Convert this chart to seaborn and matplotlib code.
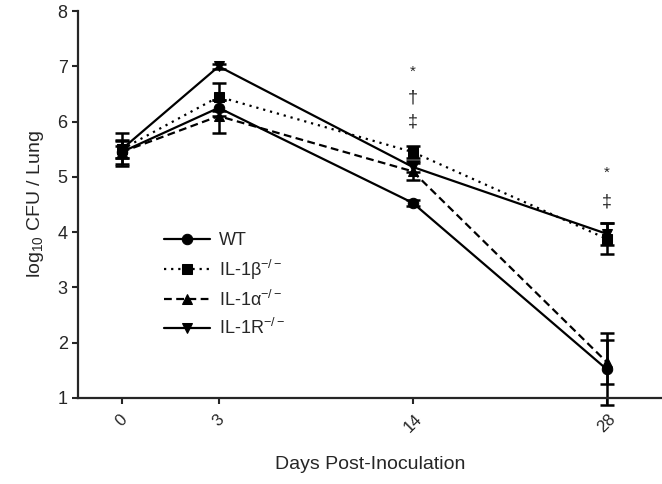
import numpy as np
import pandas as pd
import seaborn as sns
import matplotlib
matplotlib.use("Agg")
import matplotlib.pyplot as plt

# data
days = [0, 3, 14, 28]
groups = ["WT", "IL-1β$^{-/-}$", "IL-1α$^{-/-}$", "IL-1R$^{-/-}$"]
wt = [5.45, 6.25, 4.53, 1.52]
wt_sem = [0.10, 0.15, 0.05, 0.65]
il1b = [5.50, 6.45, 5.45, 3.88]
il1b_sem = [0.15, 0.25, 0.10, 0.28]
il1a = [5.45, 6.10, 5.10, 1.65]
il1a_sem = [0.22, 0.30, 0.15, 0.40]
il1r = [5.50, 7.00, 5.18, 3.97]
il1r_sem = [0.30, 0.05, 0.10, 0.20]

# significance marks
sig_days = [14, 14, 14, 28, 28]
sig_y = [6.9, 6.43, 6.0, 5.07, 4.54]
sig_txt = ["*", "†", "‡", "*", "‡"]

means = [wt, il1b, il1a, il1r]
sems = [wt_sem, il1b_sem, il1a_sem, il1r_sem]

df = pd.DataFrame({
    "day": days * 4,
    "cfu": sum(means, []),
    "group": np.repeat(groups, len(days)),
})

sns.set_style("ticks")
plt.rcParams["font.family"] = ["Liberation Sans", "DejaVu Sans"]
plt.rcParams["mathtext.fontset"] = "custom"
plt.rcParams["mathtext.rm"] = "Liberation Sans"
plt.rcParams["mathtext.it"] = "Liberation Sans"

fig = plt.figure(figsize=(6.62, 4.84), dpi=100)
ax = fig.add_axes([0.118, 0.178, 0.882, 0.799])

# uneven spacing of the day axis, as in the original figure
kd = np.array([0, 3, 14, 28], float)
kp = np.array([0, 1, 3, 5], float)


def piecewise(x, a, b):
    x = np.asarray(x, float)
    y = np.interp(x, a, b)
    y = np.where(x < a[0], b[0] + (x - a[0]) * (b[1] - b[0]) / (a[1] - a[0]), y)
    y = np.where(x > a[-1], b[-1] + (x - a[-1]) * (b[-1] - b[-2]) / (a[-1] - a[-2]), y)
    return y


ax.set_xscale("function", functions=(lambda x: piecewise(x, kd, kp),
                                     lambda x: piecewise(x, kp, kd)))

sns.lineplot(data=df, x="day", y="cfu", hue="group", style="group",
             palette=["black"] * 4,
             markers={groups[0]: "o", groups[1]: "s", groups[2]: "^", groups[3]: "v"},
             dashes={groups[0]: "", groups[1]: (1, 2.2), groups[2]: (3.5, 2), groups[3]: ""},
             linewidth=1.6, markersize=7.5, markeredgecolor="black", ax=ax)

for m, s in zip(means, sems):
    ax.errorbar(days, m, yerr=s, fmt="none", ecolor="black", elinewidth=1.8,
                capsize=5, capthick=1.8, clip_on=False)

for d, y, t in zip(sig_days, sig_y, sig_txt):
    ax.text(d, y, t, ha="center", va="center", fontsize=13 if t != "*" else 11)

ax.set_xlim(-1.35, 32.0)
ax.set_ylim(1, 8)
ax.set_xticks(days)
ax.set_xticklabels([str(d) for d in days], rotation=45, ha="center", fontsize=12)
ax.set_yticks(range(1, 9))
ax.tick_params(axis="y", labelsize=13)
ax.tick_params(axis="x", pad=6)
ax.tick_params(width=1.5, length=4)
for sp in ["left", "bottom"]:
    ax.spines[sp].set_linewidth(1.6)
sns.despine(ax=ax)

ax.set_xlabel("Days Post-Inoculation", fontsize=14, labelpad=15)
ax.set_ylabel("log$_{10}$ CFU / Lung", fontsize=14, labelpad=8)

leg = ax.legend(loc="upper left", bbox_to_anchor=(0.12, 0.47), frameon=False,
                fontsize=13, handlelength=2.5, labelspacing=0.45, handletextpad=0.5)

fig.savefig("out.png", dpi=100)
